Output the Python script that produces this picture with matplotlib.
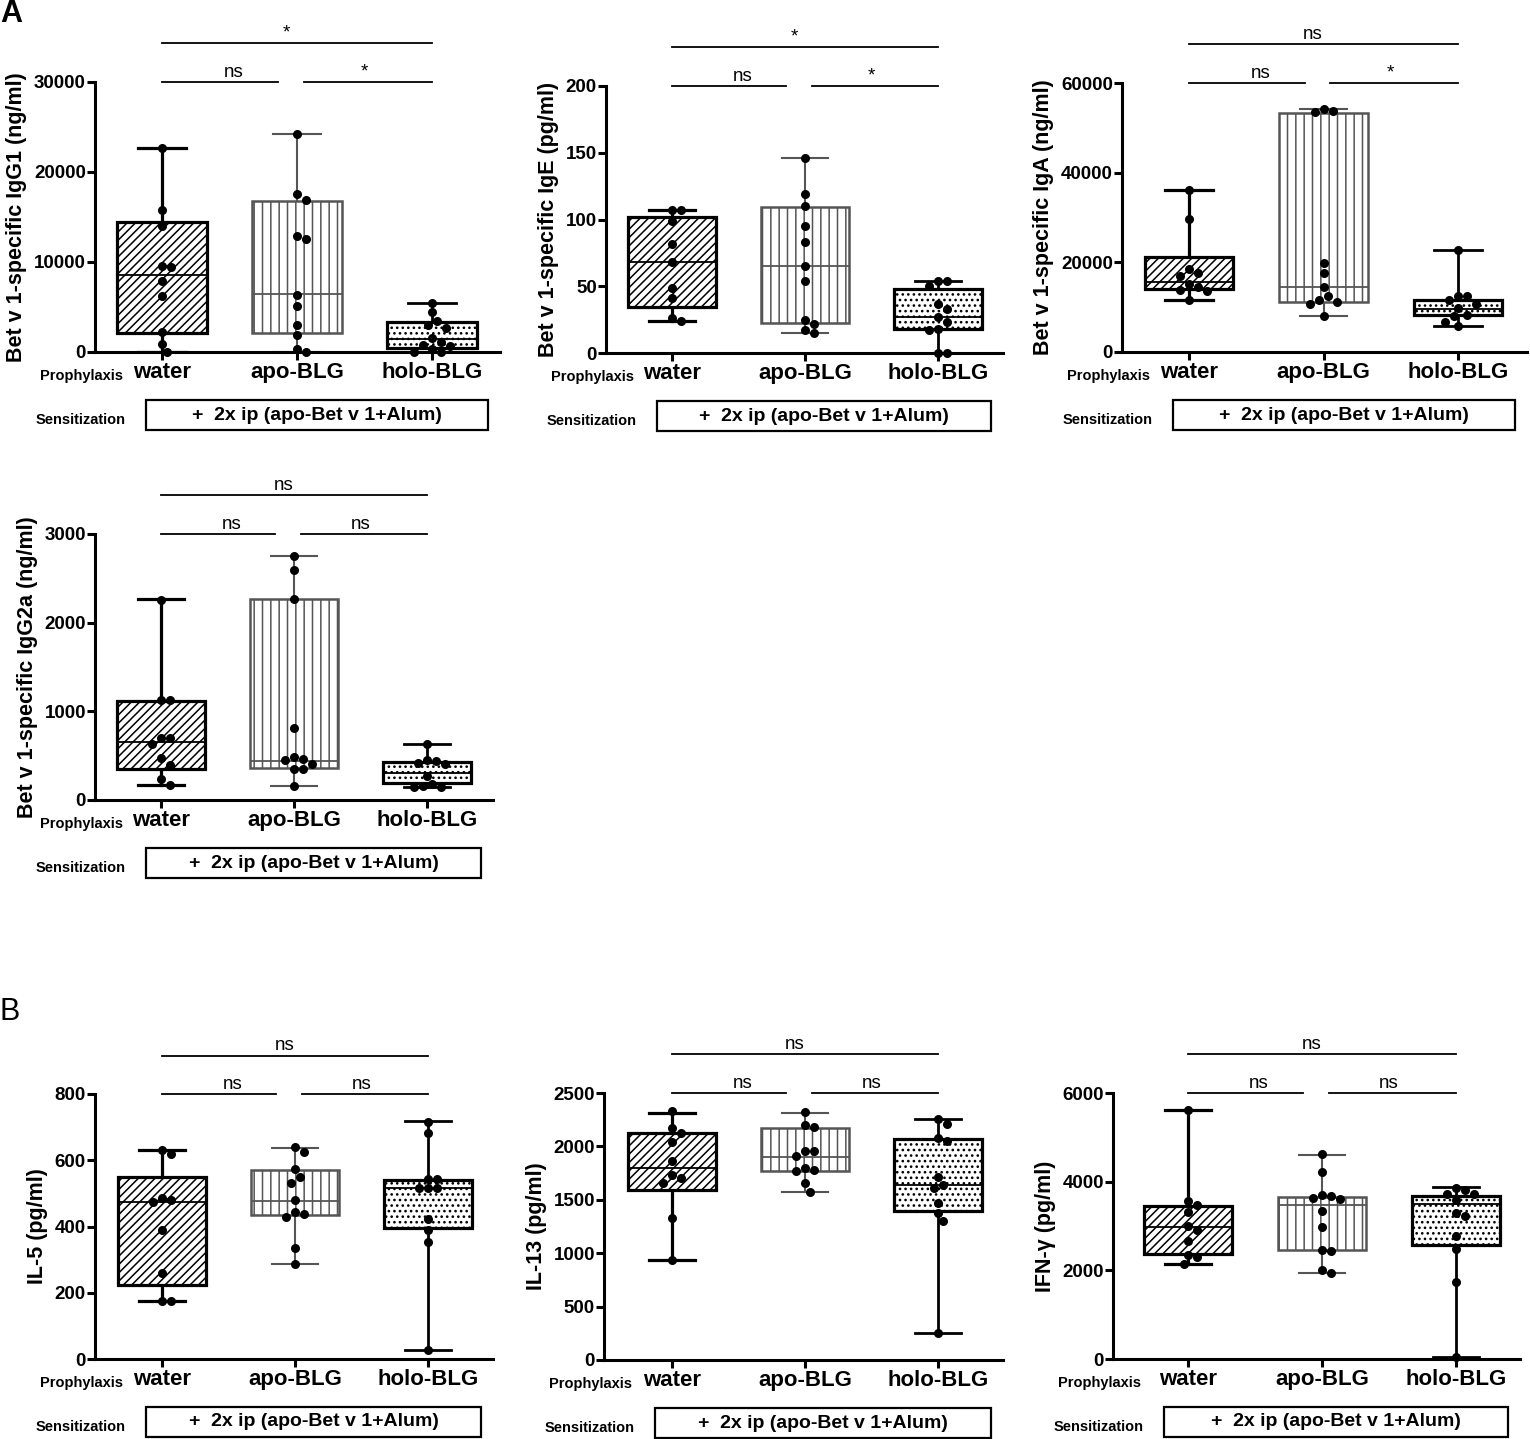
import numpy as np
import matplotlib
matplotlib.use('Agg')
import matplotlib.pyplot as plt
from matplotlib.patches import Rectangle

plt.rcParams['font.family'] = ['Liberation Sans', 'DejaVu Sans']
plt.rcParams['hatch.linewidth'] = 1.1

W, H = 1530, 1439
groups = ['water', 'apo-BLG', 'holo-BLG']

# values; box stats are [min, q1, median, q3, max]
igg1_water = [22700, 15800, 14000, 9600, 9400, 7900, 6200, 2200, 900, 0]
igg1_apo = [24200, 17500, 16900, 12900, 12600, 6300, 5100, 3000, 1900, 300, 0]
igg1_holo = [5400, 4400, 3500, 3000, 2700, 1600, 1100, 800, 700, 300, 0, 0]
igg1_box = [[0, 2100, 8600, 14400, 22700], [0, 2100, 6400, 16800, 24200], [0, 500, 1500, 3300, 5400]]

ige_water = [107, 107, 99, 82, 68, 49, 41, 26, 24]
ige_apo = [146, 119, 110, 95, 83, 65, 54, 25, 22, 17, 15]
ige_holo = [54, 54, 50, 37, 33, 27, 23, 18, 17, 0, 0]
ige_box = [[24, 34.5, 68, 102, 107], [15, 22.5, 65, 109, 146], [0, 18, 27, 48, 54]]

iga_water = [36100, 29700, 18600, 17600, 16900, 15200, 14600, 13800, 13500, 11700]
iga_apo = [54200, 53700, 53500, 19900, 17700, 14500, 12600, 11700, 11200, 10600, 8000]
iga_holo = [22800, 12600, 12500, 11700, 10800, 9900, 8200, 8000, 6700, 5700]
iga_box = [[11700, 14000, 15600, 21200, 36100], [8000, 11200, 14500, 53200, 54300], [5700, 8200, 9700, 11700, 22800]]

igg2a_water = [2260, 1130, 1125, 700, 700, 630, 470, 395, 233, 170]
igg2a_apo = [2750, 2590, 2270, 816, 480, 460, 450, 405, 350, 345, 158]
igg2a_holo = [628, 450, 440, 413, 406, 271, 177, 158, 150, 143]
igg2a_box = [[170, 346, 658, 1120, 2263], [158, 357, 445, 2263, 2752], [143, 195, 310, 425, 628]]

il5_water = [632, 619, 486, 479, 473, 388, 261, 176, 174]
il5_apo = [640, 624, 573, 548, 530, 479, 445, 439, 430, 334, 286]
il5_holo = [715, 681, 544, 544, 515, 515, 515, 423, 390, 352, 28]
il5_box = [[174, 222, 473, 548, 631], [286, 435, 478, 571, 638], [28, 394, 516, 540, 717]]

il13_water = [2329, 2173, 2126, 2042, 1864, 1730, 1708, 1661, 1325, 935]
il13_apo = [2325, 2198, 2182, 1955, 1955, 1908, 1799, 1783, 1767, 1658, 1574]
il13_holo = [2260, 2207, 2082, 2051, 1714, 1636, 1612, 1474, 1381, 1300, 256]
il13_box = [[941, 1590, 1802, 2126, 2316], [1574, 1771, 1902, 2170, 2316], [256, 1397, 1636, 2070, 2260]]

ifng_water = [5609, 3571, 3466, 3308, 3008, 2902, 2654, 2353, 2301, 2150]
ifng_apo = [4624, 4226, 3699, 3684, 3632, 3617, 3331, 2970, 2451, 2444, 2015, 1940]
ifng_holo = [3857, 3820, 3722, 3722, 3594, 3293, 3233, 2782, 2481, 1729, 50]
ifng_box = [[2150, 2368, 2970, 3444, 5609], [1940, 2466, 3481, 3647, 4609], [45, 2579, 3503, 3684, 3872]]

# box styles per group
edge_col = ['black', '#555555', 'black']
hatches = ['////', '||', '...']
box_lw = [2.3, 1.8, 2.3]
whisk_lw = [2.3, 1.5, 2.0]

fig = plt.figure(figsize=(W / 100, H / 100), dpi=100)


def swarm(vals, ppu, dot, step):
    placed = []
    out = [0.0] * len(vals)
    for i in sorted(range(len(vals)), key=lambda k: -vals[k]):
        y = vals[i] * ppu
        cands = [0.0]
        for k in range(1, 30):
            cands += [k * step, -k * step]
        for c in cands:
            if all((c - px) ** 2 + (y - py) ** 2 >= dot ** 2 for px, py in placed):
                placed.append((c, y))
                out[i] = c
                break
    return out


def panel(lay, data, stats, ylabel, ymax, ystep, sig):
    axL, axR, c0, c2, top, bot = lay
    ax = fig.add_axes([axL / W, 1 - bot / H, (axR - axL) / W, (bot - top) / H])
    s = (c2 - c0) / 2
    ax.set_xlim((axL - c0) / s, (axR - c0) / s)
    ax.set_ylim(0, ymax)

    st = [dict(whislo=b[0], q1=b[1], med=b[2], q3=b[3], whishi=b[4], fliers=[]) for b in stats]
    bp = ax.bxp(st, positions=[0, 1, 2], widths=0.66, capwidths=0.35, patch_artist=True,
                showfliers=False, manage_ticks=False)
    for i in range(3):
        bp['boxes'][i].set(facecolor='white', edgecolor=edge_col[i], linewidth=box_lw[i],
                           hatch=hatches[i], zorder=2)
        bp['medians'][i].set(color=edge_col[i], linewidth=1.3, zorder=3)
        for ln in bp['whiskers'][2 * i:2 * i + 2] + bp['caps'][2 * i:2 * i + 2]:
            ln.set(color=edge_col[i], linewidth=whisk_lw[i], zorder=1.5)

    ppu = (bot - top) / ymax
    for i, vals in enumerate(data):
        off = swarm(vals, ppu, 9, 4.5)
        ax.plot(np.array(off) / s + i, vals, 'o', color='black', ms=6.5, mew=0,
                clip_on=False, zorder=5)

    # significance bars
    y1, y2 = ymax, ymax * 1.145
    for xs, y, lab, xt in [((0, 0.86), y1, sig[0], 0.53), ((1.05, 2), y1, sig[1], 1.5),
                           ((0, 2), y2, sig[2], 0.92)]:
        ax.plot(xs, [y, y], color='black', lw=1.3, clip_on=False)
        ax.annotate(lab, (xt, y), xytext=(0, 1), textcoords='offset points',
                    ha='center', va='bottom', fontsize=13.5, annotation_clip=False)

    for sp in ['top', 'right']:
        ax.spines[sp].set_visible(False)
    for sp in ['left', 'bottom']:
        ax.spines[sp].set_linewidth(2.2)
    ax.tick_params(width=2.2, length=5.5, direction='out')
    ax.tick_params(axis='y', pad=1)
    ax.tick_params(axis='x', pad=2)
    yt = np.arange(0, ymax + 1, ystep)
    ax.set_yticks(yt, labels=[f'{v:g}' for v in yt], fontsize=13.5, fontweight='bold')
    ax.set_xticks([0, 1, 2], labels=groups, fontsize=16, fontweight='bold')
    ax.set_ylabel(ylabel, fontsize=15.5, fontweight='bold', labelpad=5)

    # prophylaxis / sensitization labels
    fig.text((axL + 28) / W, 1 - (bot + 24) / H, 'Prophylaxis', ha='right', va='center',
             fontsize=10.5, fontweight='bold')
    fig.text((axL + 31) / W, 1 - (bot + 68) / H, 'Sensitization', ha='right', va='center',
             fontsize=10.5, fontweight='bold')
    bx0, bx1 = axL + 51, axR - 12
    fig.patches.append(Rectangle((bx0 / W, 1 - (bot + 78) / H), (bx1 - bx0) / W, 30 / H,
                                 transform=fig.transFigure, fill=False, lw=1.6, ec='black'))
    fig.text((bx0 + bx1) / 2 / W, 1 - (bot + 63) / H, '+  2x ip (apo-Bet v 1+Alum)',
             ha='center', va='center', fontsize=14, fontweight='bold')
    return ax


panel((95, 500, 162, 432, 82, 352), [igg1_water, igg1_apo, igg1_holo], igg1_box,
      'Bet v 1-specific IgG1 (ng/ml)', 30000, 10000, ('ns', '*', '*'))
panel((606, 1003, 672, 938, 86, 353), [ige_water, ige_apo, ige_holo], ige_box,
      'Bet v 1-specific IgE (pg/ml)', 200, 50, ('ns', '*', '*'))
panel((1122, 1527, 1189, 1458, 83, 352), [iga_water, iga_apo, iga_holo], iga_box,
      'Bet v 1-specific IgA (ng/ml)', 60000, 20000, ('ns', '*', 'ns'))
panel((95, 493, 161, 427, 534, 800), [igg2a_water, igg2a_apo, igg2a_holo], igg2a_box,
      'Bet v 1-specific IgG2a (ng/ml)', 3000, 1000, ('ns', 'ns', 'ns'))
panel((95, 493, 162, 428, 1094, 1359), [il5_water, il5_apo, il5_holo], il5_box,
      'IL-5 (pg/ml)', 800, 200, ('ns', 'ns', 'ns'))
panel((604, 1003, 672, 938, 1093, 1360), [il13_water, il13_apo, il13_holo], il13_box,
      'IL-13 (pg/ml)', 2500, 500, ('ns', 'ns', 'ns'))
panel((1113, 1520, 1188, 1456, 1093, 1359), [ifng_water, ifng_apo, ifng_holo], ifng_box,
      'IFN-γ (pg/ml)', 6000, 2000, ('ns', 'ns', 'ns'))

fig.text(0.0, 1 - 14 / H, 'A', fontsize=22, fontweight='bold', va='center', ha='left')
fig.text(0.0, 1 - 1012 / H, 'B', fontsize=22, va='center', ha='left')

fig.savefig('out.png', dpi=100)
